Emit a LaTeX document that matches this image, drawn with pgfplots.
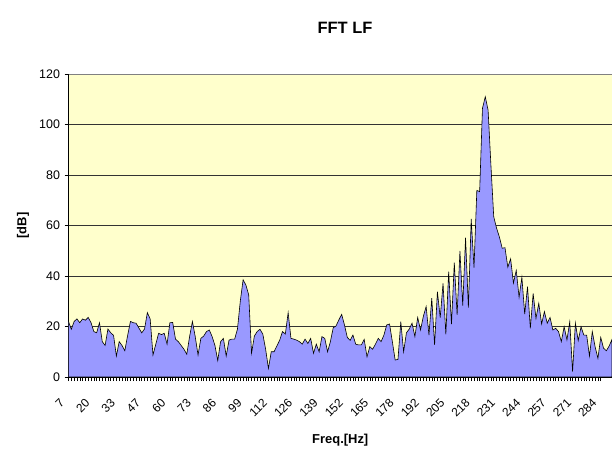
\documentclass[border=0pt]{standalone}
\usepackage{fontspec}
\setmainfont{Liberation Sans}
\usepackage{pgfplots}
\pgfplotsset{compat=1.18}
\definecolor{bgyellow}{HTML}{FFFFCC}
\definecolor{areafill}{HTML}{9999FF}
\begin{document}
\begin{tikzpicture}
\begin{axis}[
  at={(68.5bp,81bp)}, anchor=south west,
  scale only axis, width=543.5bp, height=303bp,
  xmin=0, xmax=193, ymin=0, ymax=120,
  axis x line*=bottom, axis y line*=left,
  axis line style={black, line width=0.8pt},
  axis background/.style={fill=bgyellow},
  ytick={0,20,...,120},
  ymajorgrids, major grid style={black!80, line width=0.6pt},
  xtick={0,9,...,189},
  xticklabels={7,20,33,47,60,73,86,99,112,126,139,152,165,178,192,205,218,231,244,257,271,284},
  minor x tick num=8,
  tick align=outside,
  major tick length=4bp, minor tick length=4bp,
  tick style={black, line width=0.5pt},
  /pgf/number format/assume math mode=true,
  yticklabel style={font=\fontsize{12.5}{14}\selectfont, xshift=-1bp},
  xticklabel style={font=\fontsize{12}{14}\selectfont, xshift=-5.5bp, yshift=-19bp, rotate=45, anchor=east, inner sep=1bp},
  xlabel={\textbf{Freq.[Hz]}},
  ylabel={\textbf{[dB]}},
  every axis x label/.style={at={(axis description cs:0.5,0)}, yshift=-63bp, anchor=center, font=\fontsize{13}{15}\selectfont},
  every axis y label/.style={at={(axis description cs:0,0.5)}, xshift=-45.5bp, rotate=90, anchor=center, font=\fontsize{13}{15}\selectfont},
  clip=true,
]
\addplot[fill=areafill, draw=black, line width=0.6pt] table[row sep=\\] {
x y\\
0 22\\ 1 18.9\\ 2 22\\ 3 23\\ 4 21.5\\ 5 23\\ 6 22.5\\ 7 23.6\\ 8 21.5\\ 9 18\\
10 17.5\\ 11 21.5\\ 12 14\\ 13 12.5\\ 14 19\\ 15 17.5\\ 16 16.5\\ 17 8.3\\ 18 14\\ 19 12.5\\
20 10.4\\ 21 16.5\\ 22 22\\ 23 21.5\\ 24 21.3\\ 25 19.4\\ 26 17.5\\ 27 19\\ 28 25.5\\ 29 23\\
30 8.7\\ 31 13\\ 32 17.3\\ 33 16.8\\ 34 17.3\\ 35 13\\ 36 21.5\\ 37 21.6\\ 38 15\\ 39 14\\
40 12.5\\ 41 11\\ 42 9\\ 43 16\\ 44 22\\ 45 16\\ 46 8.7\\ 47 15.3\\ 48 16.2\\ 49 18\\
50 18.6\\ 51 16\\ 52 12.5\\ 53 6.5\\ 54 14\\ 55 15.3\\ 56 8.3\\ 57 14.6\\ 58 15\\ 59 15\\
60 19\\ 61 30\\ 62 38.5\\ 63 36.4\\ 64 32.5\\ 65 9.4\\ 66 16.2\\ 67 18\\ 68 18.9\\ 69 17\\
70 11\\ 71 3.4\\ 72 10\\ 73 10\\ 74 12.3\\ 75 14.6\\ 76 18\\ 77 17\\ 78 25.5\\ 79 15.3\\
80 15\\ 81 14.6\\ 82 14\\ 83 13\\ 84 15\\ 85 13.3\\ 86 15.3\\ 87 9.4\\ 88 13\\ 89 10\\
90 16\\ 91 15.3\\ 92 10\\ 93 14\\ 94 19.5\\ 95 20.2\\ 96 22.6\\ 97 24.8\\ 98 20.6\\ 99 15.7\\
100 14.5\\ 101 16.6\\ 102 13\\ 103 12.7\\ 104 12.7\\ 105 14.9\\ 106 8\\ 107 12\\ 108 11\\ 109 13\\
110 15.3\\ 111 14\\ 112 16.6\\ 113 20.6\\ 114 21\\ 115 14\\ 116 6.7\\ 117 7\\ 118 21.9\\ 119 10\\
120 17.5\\ 121 19\\ 122 21.3\\ 123 16\\ 124 23.6\\ 125 18.6\\ 126 24\\ 127 27.9\\ 128 16.6\\ 129 31.2\\
130 12.7\\ 131 33.8\\ 132 23.5\\ 133 37.1\\ 134 16.9\\ 135 41.7\\ 136 20.9\\ 137 45.3\\ 138 24.6\\ 139 49.9\\
140 28.3\\ 141 55.2\\ 142 27.5\\ 143 62.6\\ 144 43.3\\ 145 73.9\\ 146 73.4\\ 147 106.4\\ 148 111\\ 149 105.7\\
150 84\\ 151 63.5\\ 152 59\\ 153 55.5\\ 154 51\\ 155 51.2\\ 156 43.5\\ 157 46.8\\ 158 37.2\\ 159 42.2\\
160 31.6\\ 161 39.5\\ 162 24.9\\ 163 35.8\\ 164 19.3\\ 165 33.1\\ 166 23.2\\ 167 29.2\\ 168 21\\ 169 25.9\\
170 21.3\\ 171 23.6\\ 172 18.6\\ 173 19.3\\ 174 18\\ 175 14\\ 176 19.9\\ 177 14.7\\ 178 21.9\\ 179 2.1\\
180 21.3\\ 181 14.4\\ 182 19.9\\ 183 16.6\\ 184 16.6\\ 185 8.3\\ 186 18\\ 187 12\\ 188 7.4\\ 189 15.7\\
190 11.4\\ 191 10.4\\ 192 12.3\\ 193 14.9\\
} \closedcycle;
\draw[gray, line width=0.8pt] (rel axis cs:0,1) -- (rel axis cs:1,1);
\end{axis}
\node[font=\bfseries\fontsize{16.5}{19}\selectfont] at (345bp,430bp) {FFT LF};
\pgfresetboundingbox
\path[use as bounding box] (0,0) rectangle (612bp,458bp);
\end{tikzpicture}
\end{document}
